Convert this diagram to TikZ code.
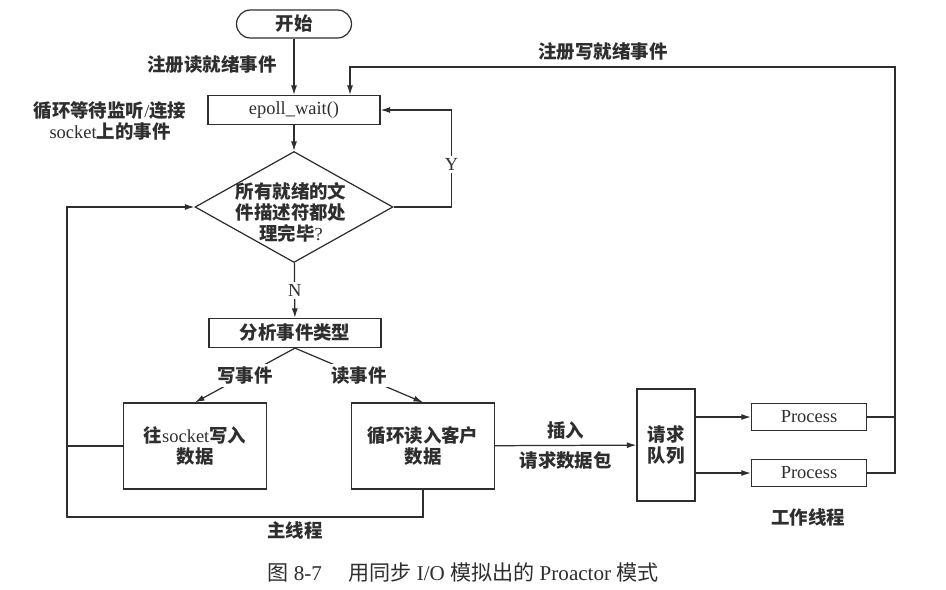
\documentclass[tikz,border=0pt]{standalone}
\usepackage{fontspec}
\setmainfont{Liberation Serif}
\newfontfamily\cjk{Noto Sans CJK SC}
\usepackage{xcolor}
\usepackage{tikz}
\usetikzlibrary{arrows.meta,shapes.geometric}
\definecolor{ink}{HTML}{2E2E2E}
\newcommand{\zh}[1]{{\cjk\bfseries #1}}
\newcommand{\zhr}[1]{{\cjk #1}}
\tikzset{
  line/.style={draw=ink, line width=0.7pt},
  arr/.style={line, -{Latex[length=1.9mm,width=1.2mm]}},
  lab/.style={text=ink, align=center, font=\fontsize{10.5}{12}\selectfont},
  box/.style={line, rectangle, inner sep=0pt, lab},
  wide/.style={box, minimum width=3.44cm, minimum height=0.58cm},
  task/.style={box, minimum width=2.86cm, minimum height=1.72cm},
  proc/.style={box, minimum width=2.3cm, minimum height=0.54cm},
  cut/.style={fill=white, inner sep=1.5pt, lab}
}
\begin{document}
\begin{tikzpicture}[x=0.02cm, y=-0.02cm]
  \useasboundingbox (0,0) rectangle (946,589);

  % main loop
  \node[box, rounded corners=0.28cm, minimum width=2.3cm, minimum height=0.56cm] (start) at (294,24) {\zh{开始}};
  \node[wide] (epoll) at (294,110) {epoll\_wait()};
  \node[line, diamond, minimum width=3.96cm, minimum height=2.22cm, inner sep=0pt] (dec) at (294,207) {};
  \node[lab] (dectxt) at (291,212) {\zh{所有就绪的文}\\\zh{件描述符都处}\\\zh{理完毕}?};
  \node[wide] (kind) at (295,333) {\zh{分析事件类型}};
  \node[task] (wbox) at (195,446) {\zh{往}socket\zh{写入}\\\zh{数据}};
  \node[task] (rbox) at (423,446) {\zh{循环读入客户}\\\zh{数据}};

  % workers
  \node[box, minimum width=1.16cm, minimum height=2.24cm] (queue) at (666,445) {\zh{请求}\\\zh{队列}};
  \node[proc] (p1) at (809,417) {Process};
  \node[proc] (p2) at (809,473) {Process};

  \coordinate (loopB) at (67,517);
  \coordinate (rline) at (895,67);
  \coordinate (wtop) at (350,67);

  \draw[arr] (start) -- (epoll);
  \draw[arr] (epoll) -- (dec);
  \draw[arr] (dec.east) -- ++(58,0) |- (epoll.east) node[cut, pos=0.22] {Y};
  \draw[arr] (dec) -- (kind) node[cut, midway] {N};
  \draw[arr] (kind.south) -- (wbox.north) node[cut, midway] {\zh{写事件}};
  \draw[arr] (kind.south) -- (rbox.north) node[cut, midway] {\zh{读事件}};

  \draw[arr] (rbox.south) |- (loopB) |- (dec.west);
  \draw[line] (wbox.west) -- (wbox.west -| loopB);

  \draw[arr] (rbox) -- (queue)
    node[lab, midway, above] {\zh{插入}}
    node[lab, midway, below] {\zh{请求数据包}};
  \draw[arr] (p1.west -| queue.east) -- (p1.west);
  \draw[arr] (p2.west -| queue.east) -- (p2.west);

  \draw[line] (p1.east) -- (p1.east -| rline);
  \draw[arr] (p2.east) -| (rline) -- (wtop) -- (wtop |- epoll.north);

  % labels
  \node[lab] (regR) at (212,65) {\zh{注册读就绪事件}};
  \node[lab] (regW) at (603,52) {\zh{注册写就绪事件}};
  \node[lab] (waitT) at (110,121) {\zh{循环等待监听}/\zh{连接}\\socket\zh{上的事件}};
  \node[lab] (mainT) at (295,530) {\zh{主线程}};
  \node[lab] (workT) at (808,517) {\zh{工作线程}};
  \node[lab, font=\fontsize{12}{14}\selectfont] (cap) at (463,572) {\zhr{图} 8-7\quad\ \zhr{用同步} I/O \zhr{模拟出的} Proactor \zhr{模式}};
\end{tikzpicture}
\end{document}
